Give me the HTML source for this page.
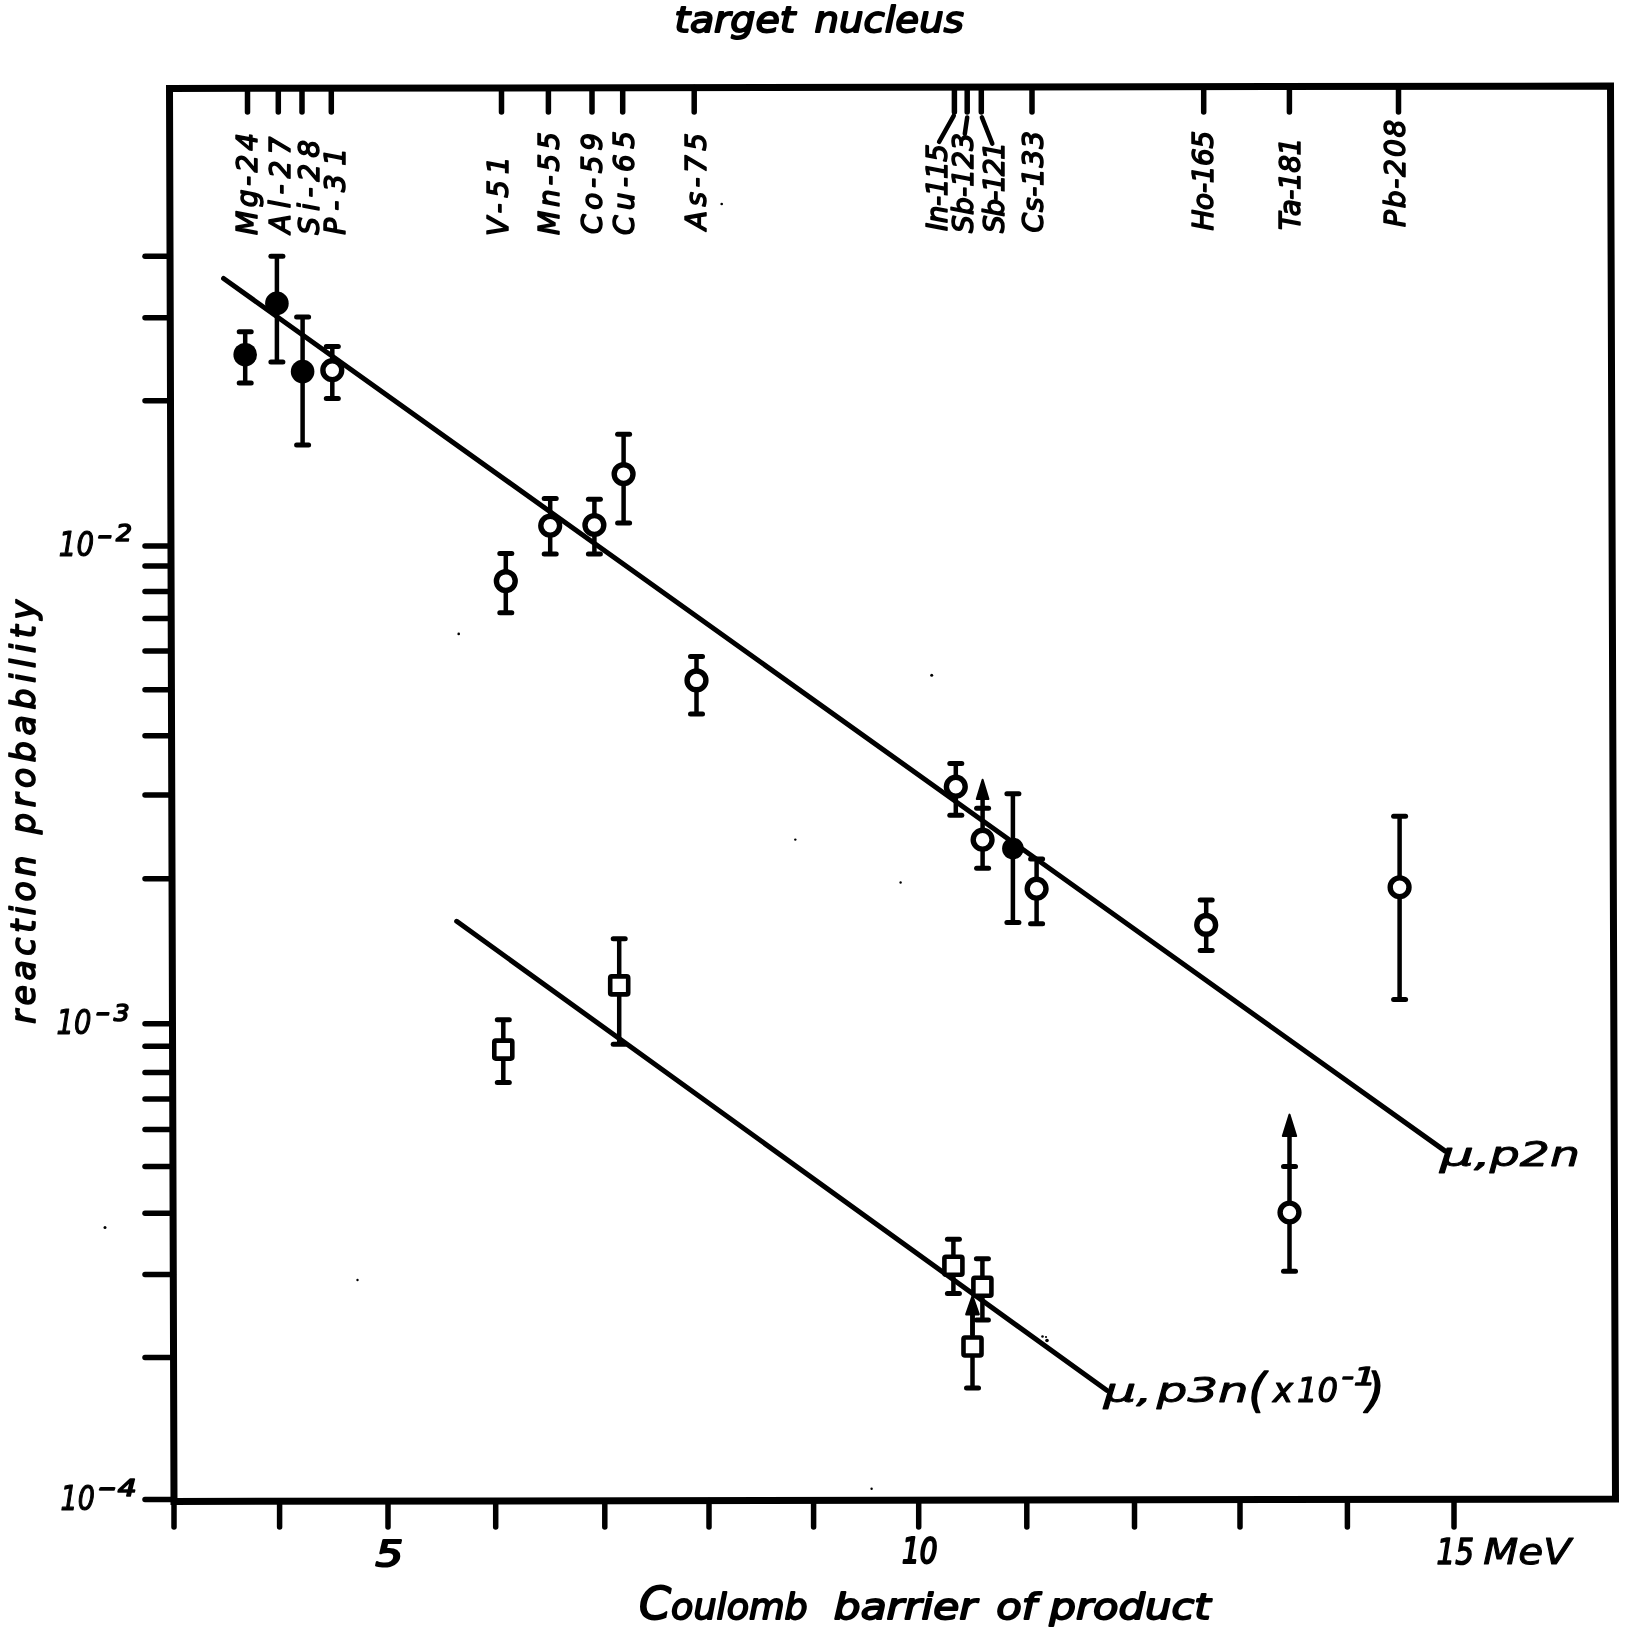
<!DOCTYPE html>
<html><head><meta charset="utf-8"><title>reaction probability vs Coulomb barrier</title>
<style>
html,body{margin:0;padding:0;background:#fff;}
body{width:1636px;height:1630px;overflow:hidden;}
svg{display:block;}
svg{filter:grayscale(1);}
svg text{font-family:"DejaVu Sans", sans-serif;font-weight:normal;font-style:oblique;stroke:#000;stroke-width:2.2px;stroke-linejoin:round;stroke-linecap:round;fill:#000;}
</style></head>
<body>
<svg width="1636" height="1630" viewBox="0 0 1636 1630">
<rect width="1636" height="1630" fill="#fff"/>
<path d="M169.5,88.5 L1610.5,86.0 L1615.5,1499.0 L174.0,1501.5 Z" fill="none" stroke="#000" stroke-width="7" stroke-linejoin="miter"/>
<line x1="247.5" y1="88.4" x2="247.5" y2="112" stroke="#000" stroke-width="5.5" stroke-linecap="round"/>
<line x1="278.3" y1="88.3" x2="278.3" y2="112" stroke="#000" stroke-width="5.5" stroke-linecap="round"/>
<line x1="302.0" y1="88.3" x2="302.0" y2="112" stroke="#000" stroke-width="5.5" stroke-linecap="round"/>
<line x1="331.3" y1="88.2" x2="331.3" y2="112" stroke="#000" stroke-width="5.5" stroke-linecap="round"/>
<line x1="501.5" y1="87.9" x2="501.5" y2="112" stroke="#000" stroke-width="5.5" stroke-linecap="round"/>
<line x1="548.4" y1="87.8" x2="548.4" y2="112" stroke="#000" stroke-width="5.5" stroke-linecap="round"/>
<line x1="592.0" y1="87.8" x2="592.0" y2="112" stroke="#000" stroke-width="5.5" stroke-linecap="round"/>
<line x1="622.7" y1="87.7" x2="622.7" y2="112" stroke="#000" stroke-width="5.5" stroke-linecap="round"/>
<line x1="694.2" y1="87.6" x2="694.2" y2="112" stroke="#000" stroke-width="5.5" stroke-linecap="round"/>
<line x1="954.4" y1="87.1" x2="954.4" y2="112" stroke="#000" stroke-width="5.5" stroke-linecap="round"/>
<line x1="967.2" y1="87.1" x2="967.2" y2="112" stroke="#000" stroke-width="5.5" stroke-linecap="round"/>
<line x1="981.3" y1="87.1" x2="981.3" y2="112" stroke="#000" stroke-width="5.5" stroke-linecap="round"/>
<line x1="1032.0" y1="87.0" x2="1032.0" y2="112" stroke="#000" stroke-width="5.5" stroke-linecap="round"/>
<line x1="1203.7" y1="86.7" x2="1203.7" y2="112" stroke="#000" stroke-width="5.5" stroke-linecap="round"/>
<line x1="1289.4" y1="86.6" x2="1289.4" y2="112" stroke="#000" stroke-width="5.5" stroke-linecap="round"/>
<line x1="1398.5" y1="86.4" x2="1398.5" y2="112" stroke="#000" stroke-width="5.5" stroke-linecap="round"/>
<line x1="145" y1="256.3" x2="170.0" y2="256.3" stroke="#000" stroke-width="5.5" stroke-linecap="round"/>
<line x1="145" y1="317.8" x2="170.2" y2="317.8" stroke="#000" stroke-width="5.5" stroke-linecap="round"/>
<line x1="145" y1="400.7" x2="170.5" y2="400.7" stroke="#000" stroke-width="5.5" stroke-linecap="round"/>
<line x1="145" y1="546.0" x2="171.0" y2="546.0" stroke="#000" stroke-width="5.5" stroke-linecap="round"/>
<line x1="145" y1="566.0" x2="171.0" y2="566.0" stroke="#000" stroke-width="5.5" stroke-linecap="round"/>
<line x1="145" y1="591.4" x2="171.1" y2="591.4" stroke="#000" stroke-width="5.5" stroke-linecap="round"/>
<line x1="145" y1="618.6" x2="171.2" y2="618.6" stroke="#000" stroke-width="5.5" stroke-linecap="round"/>
<line x1="145" y1="651.0" x2="171.3" y2="651.0" stroke="#000" stroke-width="5.5" stroke-linecap="round"/>
<line x1="145" y1="689.7" x2="171.4" y2="689.7" stroke="#000" stroke-width="5.5" stroke-linecap="round"/>
<line x1="145" y1="735.7" x2="171.6" y2="735.7" stroke="#000" stroke-width="5.5" stroke-linecap="round"/>
<line x1="145" y1="795.0" x2="171.8" y2="795.0" stroke="#000" stroke-width="5.5" stroke-linecap="round"/>
<line x1="145" y1="878.7" x2="172.0" y2="878.7" stroke="#000" stroke-width="5.5" stroke-linecap="round"/>
<line x1="145" y1="1023.8" x2="172.5" y2="1023.8" stroke="#000" stroke-width="5.5" stroke-linecap="round"/>
<line x1="145" y1="1046.2" x2="172.6" y2="1046.2" stroke="#000" stroke-width="5.5" stroke-linecap="round"/>
<line x1="145" y1="1072.6" x2="172.6" y2="1072.6" stroke="#000" stroke-width="5.5" stroke-linecap="round"/>
<line x1="145" y1="1099.0" x2="172.7" y2="1099.0" stroke="#000" stroke-width="5.5" stroke-linecap="round"/>
<line x1="145" y1="1129.4" x2="172.8" y2="1129.4" stroke="#000" stroke-width="5.5" stroke-linecap="round"/>
<line x1="145" y1="1166.6" x2="172.9" y2="1166.6" stroke="#000" stroke-width="5.5" stroke-linecap="round"/>
<line x1="145" y1="1213.3" x2="173.1" y2="1213.3" stroke="#000" stroke-width="5.5" stroke-linecap="round"/>
<line x1="145" y1="1274.6" x2="173.3" y2="1274.6" stroke="#000" stroke-width="5.5" stroke-linecap="round"/>
<line x1="145" y1="1357.6" x2="173.5" y2="1357.6" stroke="#000" stroke-width="5.5" stroke-linecap="round"/>
<line x1="145" y1="1499.5" x2="174.0" y2="1499.5" stroke="#000" stroke-width="5.5" stroke-linecap="round"/>
<line x1="174.0" y1="1501.5" x2="174.0" y2="1527" stroke="#000" stroke-width="5.5" stroke-linecap="round"/>
<line x1="279.6" y1="1501.3" x2="279.6" y2="1527" stroke="#000" stroke-width="5.5" stroke-linecap="round"/>
<line x1="388.0" y1="1501.1" x2="388.0" y2="1527" stroke="#000" stroke-width="5.5" stroke-linecap="round"/>
<line x1="495.7" y1="1500.9" x2="495.7" y2="1527" stroke="#000" stroke-width="5.5" stroke-linecap="round"/>
<line x1="604.8" y1="1500.8" x2="604.8" y2="1527" stroke="#000" stroke-width="5.5" stroke-linecap="round"/>
<line x1="709.0" y1="1500.6" x2="709.0" y2="1527" stroke="#000" stroke-width="5.5" stroke-linecap="round"/>
<line x1="813.6" y1="1500.4" x2="813.6" y2="1527" stroke="#000" stroke-width="5.5" stroke-linecap="round"/>
<line x1="918.7" y1="1500.2" x2="918.7" y2="1527" stroke="#000" stroke-width="5.5" stroke-linecap="round"/>
<line x1="1026.8" y1="1500.0" x2="1026.8" y2="1527" stroke="#000" stroke-width="5.5" stroke-linecap="round"/>
<line x1="1134.5" y1="1499.8" x2="1134.5" y2="1527" stroke="#000" stroke-width="5.5" stroke-linecap="round"/>
<line x1="1240.0" y1="1499.7" x2="1240.0" y2="1527" stroke="#000" stroke-width="5.5" stroke-linecap="round"/>
<line x1="1347.4" y1="1499.5" x2="1347.4" y2="1527" stroke="#000" stroke-width="5.5" stroke-linecap="round"/>
<line x1="1454.0" y1="1499.3" x2="1454.0" y2="1527" stroke="#000" stroke-width="5.5" stroke-linecap="round"/>
<line x1="223.6" y1="278.5" x2="1444.9" y2="1150.9" stroke="#000" stroke-width="5" stroke-linecap="round"/>
<line x1="456.7" y1="921.3" x2="1106.7" y2="1390.3" stroke="#000" stroke-width="5" stroke-linecap="round"/>
<line x1="245.2" y1="331.8" x2="245.2" y2="383.0" stroke="#000" stroke-width="4.5"/><line x1="239.2" y1="331.8" x2="251.2" y2="331.8" stroke="#000" stroke-width="5" stroke-linecap="round"/><line x1="239.2" y1="383.0" x2="251.2" y2="383.0" stroke="#000" stroke-width="5" stroke-linecap="round"/>
<circle cx="245.2" cy="354.7" r="11.8" fill="#000"/>
<line x1="276.9" y1="256.2" x2="276.9" y2="362.1" stroke="#000" stroke-width="4.5"/><line x1="270.9" y1="256.2" x2="282.9" y2="256.2" stroke="#000" stroke-width="5" stroke-linecap="round"/><line x1="270.9" y1="362.1" x2="282.9" y2="362.1" stroke="#000" stroke-width="5" stroke-linecap="round"/>
<circle cx="276.9" cy="303.4" r="11.8" fill="#000"/>
<line x1="302.6" y1="316.9" x2="302.6" y2="445.1" stroke="#000" stroke-width="4.5"/><line x1="296.6" y1="316.9" x2="308.6" y2="316.9" stroke="#000" stroke-width="5" stroke-linecap="round"/><line x1="296.6" y1="445.1" x2="308.6" y2="445.1" stroke="#000" stroke-width="5" stroke-linecap="round"/>
<circle cx="302.6" cy="371.6" r="11.8" fill="#000"/>
<line x1="1012.9" y1="793.7" x2="1012.9" y2="922.5" stroke="#000" stroke-width="4.5"/><line x1="1006.9" y1="793.7" x2="1018.9" y2="793.7" stroke="#000" stroke-width="5" stroke-linecap="round"/><line x1="1006.9" y1="922.5" x2="1018.9" y2="922.5" stroke="#000" stroke-width="5" stroke-linecap="round"/>
<circle cx="1012.9" cy="848.5" r="10.8" fill="#000"/>
<line x1="332.3" y1="346.6" x2="332.3" y2="398.6" stroke="#000" stroke-width="4.5"/><line x1="326.3" y1="346.6" x2="338.3" y2="346.6" stroke="#000" stroke-width="5" stroke-linecap="round"/><line x1="326.3" y1="398.6" x2="338.3" y2="398.6" stroke="#000" stroke-width="5" stroke-linecap="round"/>
<circle cx="332.3" cy="370.2" r="9.4" fill="#fff" stroke="#000" stroke-width="5.4"/>
<line x1="505.8" y1="553.4" x2="505.8" y2="612.7" stroke="#000" stroke-width="4.5"/><line x1="499.8" y1="553.4" x2="511.79999999999995" y2="553.4" stroke="#000" stroke-width="5" stroke-linecap="round"/><line x1="499.8" y1="612.7" x2="511.79999999999995" y2="612.7" stroke="#000" stroke-width="5" stroke-linecap="round"/>
<circle cx="505.8" cy="581.1" r="9.4" fill="#fff" stroke="#000" stroke-width="5.4"/>
<line x1="550.2" y1="498.6" x2="550.2" y2="554.0" stroke="#000" stroke-width="4.5"/><line x1="544.2" y1="498.6" x2="556.2" y2="498.6" stroke="#000" stroke-width="5" stroke-linecap="round"/><line x1="544.2" y1="554.0" x2="556.2" y2="554.0" stroke="#000" stroke-width="5" stroke-linecap="round"/>
<circle cx="550.2" cy="525.7" r="9.4" fill="#fff" stroke="#000" stroke-width="5.4"/>
<line x1="594.4" y1="499.3" x2="594.4" y2="554.0" stroke="#000" stroke-width="4.5"/><line x1="588.4" y1="499.3" x2="600.4" y2="499.3" stroke="#000" stroke-width="5" stroke-linecap="round"/><line x1="588.4" y1="554.0" x2="600.4" y2="554.0" stroke="#000" stroke-width="5" stroke-linecap="round"/>
<circle cx="594.4" cy="525.0" r="9.4" fill="#fff" stroke="#000" stroke-width="5.4"/>
<line x1="623.6" y1="434.2" x2="623.6" y2="523.1" stroke="#000" stroke-width="4.5"/><line x1="617.6" y1="434.2" x2="629.6" y2="434.2" stroke="#000" stroke-width="5" stroke-linecap="round"/><line x1="617.6" y1="523.1" x2="629.6" y2="523.1" stroke="#000" stroke-width="5" stroke-linecap="round"/>
<circle cx="623.6" cy="474.1" r="9.4" fill="#fff" stroke="#000" stroke-width="5.4"/>
<line x1="696.5" y1="656.4" x2="696.5" y2="713.9" stroke="#000" stroke-width="4.5"/><line x1="690.5" y1="656.4" x2="702.5" y2="656.4" stroke="#000" stroke-width="5" stroke-linecap="round"/><line x1="690.5" y1="713.9" x2="702.5" y2="713.9" stroke="#000" stroke-width="5" stroke-linecap="round"/>
<circle cx="696.5" cy="680.4" r="9.4" fill="#fff" stroke="#000" stroke-width="5.4"/>
<line x1="955.8" y1="763.4" x2="955.8" y2="815.3" stroke="#000" stroke-width="4.5"/><line x1="949.8" y1="763.4" x2="961.8" y2="763.4" stroke="#000" stroke-width="5" stroke-linecap="round"/><line x1="949.8" y1="815.3" x2="961.8" y2="815.3" stroke="#000" stroke-width="5" stroke-linecap="round"/>
<circle cx="955.8" cy="786.7" r="9.4" fill="#fff" stroke="#000" stroke-width="5.4"/>
<line x1="982.6" y1="808.3" x2="982.6" y2="868.3" stroke="#000" stroke-width="4.5"/><line x1="976.6" y1="808.3" x2="988.6" y2="808.3" stroke="#000" stroke-width="5" stroke-linecap="round"/><line x1="976.6" y1="868.3" x2="988.6" y2="868.3" stroke="#000" stroke-width="5" stroke-linecap="round"/>
<circle cx="982.6" cy="839.7" r="9.4" fill="#fff" stroke="#000" stroke-width="5.4"/>
<line x1="1036.6" y1="859.0" x2="1036.6" y2="923.7" stroke="#000" stroke-width="4.5"/><line x1="1030.6" y1="859.0" x2="1042.6" y2="859.0" stroke="#000" stroke-width="5" stroke-linecap="round"/><line x1="1030.6" y1="923.7" x2="1042.6" y2="923.7" stroke="#000" stroke-width="5" stroke-linecap="round"/>
<circle cx="1036.6" cy="888.7" r="9.4" fill="#fff" stroke="#000" stroke-width="5.4"/>
<line x1="1206.2" y1="900.1" x2="1206.2" y2="950.6" stroke="#000" stroke-width="4.5"/><line x1="1200.2" y1="900.1" x2="1212.2" y2="900.1" stroke="#000" stroke-width="5" stroke-linecap="round"/><line x1="1200.2" y1="950.6" x2="1212.2" y2="950.6" stroke="#000" stroke-width="5" stroke-linecap="round"/>
<circle cx="1206.2" cy="924.9" r="9.4" fill="#fff" stroke="#000" stroke-width="5.4"/>
<line x1="1289.5" y1="1166.4" x2="1289.5" y2="1271.3" stroke="#000" stroke-width="4.5"/><line x1="1283.5" y1="1166.4" x2="1295.5" y2="1166.4" stroke="#000" stroke-width="5" stroke-linecap="round"/><line x1="1283.5" y1="1271.3" x2="1295.5" y2="1271.3" stroke="#000" stroke-width="5" stroke-linecap="round"/>
<circle cx="1289.5" cy="1212.5" r="9.4" fill="#fff" stroke="#000" stroke-width="5.4"/>
<line x1="1399.6" y1="816.3" x2="1399.6" y2="999.4" stroke="#000" stroke-width="4.5"/><line x1="1393.6" y1="816.3" x2="1405.6" y2="816.3" stroke="#000" stroke-width="5" stroke-linecap="round"/><line x1="1393.6" y1="999.4" x2="1405.6" y2="999.4" stroke="#000" stroke-width="5" stroke-linecap="round"/>
<circle cx="1399.6" cy="887.3" r="9.4" fill="#fff" stroke="#000" stroke-width="5.4"/>
<line x1="982.6" y1="808.3" x2="982.6" y2="799.0" stroke="#000" stroke-width="4.5"/><path d="M982.6,779.7 L988.45,799.0 L976.75,799.0 Z" fill="#000" stroke="#000" stroke-width="2" stroke-linejoin="round"/>
<line x1="1289.5" y1="1166.4" x2="1289.5" y2="1136.1" stroke="#000" stroke-width="4.5"/><path d="M1289.5,1114.6 L1296.2,1136.1 L1282.8,1136.1 Z" fill="#000" stroke="#000" stroke-width="2" stroke-linejoin="round"/>
<line x1="503.3" y1="1019.8" x2="503.3" y2="1082.5" stroke="#000" stroke-width="4.5"/><line x1="497.3" y1="1019.8" x2="509.3" y2="1019.8" stroke="#000" stroke-width="5" stroke-linecap="round"/><line x1="497.3" y1="1082.5" x2="509.3" y2="1082.5" stroke="#000" stroke-width="5" stroke-linecap="round"/>
<rect x="494.3" y="1040.6" width="18.0" height="18.0" rx="1.5" fill="#fff" stroke="#000" stroke-width="4.6"/>
<line x1="619.2" y1="938.8" x2="619.2" y2="1044.3" stroke="#000" stroke-width="4.5"/><line x1="613.2" y1="938.8" x2="625.2" y2="938.8" stroke="#000" stroke-width="5" stroke-linecap="round"/><line x1="613.2" y1="1044.3" x2="625.2" y2="1044.3" stroke="#000" stroke-width="5" stroke-linecap="round"/>
<rect x="610.2" y="976.4" width="18.0" height="18.0" rx="1.5" fill="#fff" stroke="#000" stroke-width="4.6"/>
<line x1="953.4" y1="1239.3" x2="953.4" y2="1293.5" stroke="#000" stroke-width="4.5"/><line x1="947.4" y1="1239.3" x2="959.4" y2="1239.3" stroke="#000" stroke-width="5" stroke-linecap="round"/><line x1="947.4" y1="1293.5" x2="959.4" y2="1293.5" stroke="#000" stroke-width="5" stroke-linecap="round"/>
<rect x="944.4" y="1256.8" width="18.0" height="18.0" rx="1.5" fill="#fff" stroke="#000" stroke-width="4.6"/>
<line x1="982.4" y1="1258.7" x2="982.4" y2="1320.0" stroke="#000" stroke-width="4.5"/><line x1="976.4" y1="1258.7" x2="988.4" y2="1258.7" stroke="#000" stroke-width="5" stroke-linecap="round"/><line x1="976.4" y1="1320.0" x2="988.4" y2="1320.0" stroke="#000" stroke-width="5" stroke-linecap="round"/>
<rect x="973.4" y="1277.8" width="18.0" height="18.0" rx="1.5" fill="#fff" stroke="#000" stroke-width="4.6"/>
<line x1="972.5" y1="1314.4" x2="972.5" y2="1387.9" stroke="#000" stroke-width="4.5"/><line x1="966.5" y1="1387.9" x2="978.5" y2="1387.9" stroke="#000" stroke-width="5" stroke-linecap="round"/>
<rect x="963.5" y="1337.5" width="18.0" height="18.0" rx="1.5" fill="#fff" stroke="#000" stroke-width="4.6"/>
<line x1="972.5" y1="1335.0" x2="972.5" y2="1314.4" stroke="#000" stroke-width="4.5"/><path d="M972.5,1296.2 L978.85,1314.4 L966.15,1314.4 Z" fill="#000" stroke="#000" stroke-width="2" stroke-linejoin="round"/>
<line x1="953.8" y1="115.6" x2="939.1" y2="141.8" stroke="#000" stroke-width="4.5" stroke-linecap="round"/>
<line x1="967.2" y1="117.4" x2="964.8" y2="133.9" stroke="#000" stroke-width="4.5" stroke-linecap="round"/>
<line x1="981.9" y1="117.4" x2="992.3" y2="143.7" stroke="#000" stroke-width="4.5" stroke-linecap="round"/>
<circle cx="458.7" cy="633.9" r="1.3" fill="#000"/>
<circle cx="931.7" cy="675.3" r="1.5" fill="#000"/>
<circle cx="795.3" cy="839.6" r="1.2" fill="#000"/>
<circle cx="900.6" cy="882.5" r="1.2" fill="#000"/>
<circle cx="721.7" cy="204.0" r="1.3" fill="#000"/>
<circle cx="105.0" cy="1227.5" r="1.5" fill="#000"/>
<circle cx="357.5" cy="1280.0" r="1.2" fill="#000"/>
<circle cx="871.6" cy="1488.7" r="1.2" fill="#000"/>
<circle cx="1042.5" cy="1336.5" r="1.3" fill="#000"/>
<circle cx="1046.0" cy="1337.0" r="1.1" fill="#000"/>
<circle cx="1047.0" cy="1340.5" r="1.8" fill="#000"/>
<text id="t_target" x="674.40" y="32.30" font-size="35" style="stroke-width:1.8px" textLength="120.80" lengthAdjust="spacingAndGlyphs">target</text>
<text id="t_nucleus" x="814.40" y="32.30" font-size="35" style="stroke-width:1.8px" textLength="149.40" lengthAdjust="spacingAndGlyphs">nucleus</text>
<text id="t_coulomb" x="639.00" y="1619.00" font-size="35" style="stroke-width:1.8px" textLength="168.80" lengthAdjust="spacingAndGlyphs"><tspan font-size="44">C</tspan>oulomb</text>
<text id="t_barrier" x="833.80" y="1619.00" font-size="35" style="stroke-width:1.8px" textLength="142.80" lengthAdjust="spacingAndGlyphs">barrier</text>
<text id="t_of" x="996.20" y="1619.00" font-size="35" style="stroke-width:1.8px" textLength="40.20" lengthAdjust="spacingAndGlyphs">of</text>
<text id="t_product" x="1049.60" y="1619.00" font-size="35" style="stroke-width:1.8px" textLength="161.00" lengthAdjust="spacingAndGlyphs">product</text>
<text id="t_reaction" x="34.60" y="1023.80" font-size="33" style="stroke-width:1.7px" textLength="168.20" lengthAdjust="spacing" transform="rotate(-90 34.60 1023.80)">reaction</text>
<text id="t_probability" x="34.60" y="834.00" font-size="33" style="stroke-width:1.7px" textLength="234.00" lengthAdjust="spacing" transform="rotate(-90 34.60 834.00)">probability</text>
<text id="t_x5" x="375.40" y="1566.00" font-size="35" textLength="27.60" lengthAdjust="spacingAndGlyphs">5</text>
<text id="t_x10" x="902.00" y="1562.50" font-size="35" textLength="35.40" lengthAdjust="spacingAndGlyphs">10</text>
<text id="t_x15" x="1436.60" y="1563.50" font-size="35" style="stroke-width:1.6px" textLength="37.40" lengthAdjust="spacingAndGlyphs">15</text>
<text id="t_mev" x="1483.20" y="1563.50" font-size="35" style="stroke-width:1.0px" textLength="87.80" lengthAdjust="spacingAndGlyphs">MeV</text>
<text id="t_y2_10" x="58.80" y="556.00" font-size="34" style="stroke-width:1.2px" textLength="35.20" lengthAdjust="spacingAndGlyphs">10</text>
<text id="t_y2_m" x="97.20" y="543.50" font-size="26" style="stroke-width:1.6px" textLength="14.80" lengthAdjust="spacingAndGlyphs">-</text>
<text id="t_y2_e" x="116.00" y="540.50" font-size="23" style="stroke-width:1.6px" textLength="16.00" lengthAdjust="spacingAndGlyphs">2</text>
<text id="t_y3_10" x="56.60" y="1034.00" font-size="34" style="stroke-width:1.2px" textLength="34.80" lengthAdjust="spacingAndGlyphs">10</text>
<text id="t_y3_m" x="95.60" y="1021.00" font-size="26" style="stroke-width:1.6px" textLength="14.40" lengthAdjust="spacingAndGlyphs">-</text>
<text id="t_y3_e" x="113.80" y="1020.50" font-size="23" style="stroke-width:1.6px" textLength="15.80" lengthAdjust="spacingAndGlyphs">3</text>
<text id="t_y4_10" x="60.60" y="1509.50" font-size="34" style="stroke-width:1.2px" textLength="34.20" lengthAdjust="spacingAndGlyphs">10</text>
<text id="t_y4_m" x="98.00" y="1495.50" font-size="26" style="stroke-width:1.6px" textLength="17.80" lengthAdjust="spacingAndGlyphs">-</text>
<text id="t_y4_e" x="117.80" y="1496.00" font-size="23" style="stroke-width:1.6px" textLength="18.80" lengthAdjust="spacingAndGlyphs">4</text>
<text id="t_mu1" x="1440.00" y="1165.50" font-size="32" style="stroke-width:0.9px" textLength="51.00" lengthAdjust="spacingAndGlyphs">&#956;,</text>
<text id="t_p2n" x="1489.80" y="1165.50" font-size="33" style="stroke-width:0.9px" textLength="90.20" lengthAdjust="spacingAndGlyphs">p2n</text>
<text id="t_mu2" x="1103.80" y="1402.00" font-size="32" style="stroke-width:0.9px" textLength="48.80" lengthAdjust="spacingAndGlyphs">&#956;,</text>
<text id="t_p3n" x="1156.80" y="1402.00" font-size="34" style="stroke-width:0.9px" textLength="91.80" lengthAdjust="spacingAndGlyphs">p3n</text>
<text id="t_lpar" x="1248.60" y="1405.50" font-size="46" style="stroke-width:1.6px" textLength="71.00" lengthAdjust="spacing">(</text>
<text id="t_xx" x="1273.00" y="1402.00" font-size="34" style="stroke-width:1.2px" textLength="20.00" lengthAdjust="spacingAndGlyphs">x</text>
<text id="t_x10n" x="1297.00" y="1402.00" font-size="34" style="stroke-width:1.2px" textLength="41.00" lengthAdjust="spacingAndGlyphs">10</text>
<text id="t_sup1" x="1341.60" y="1385.00" font-size="24" style="stroke-width:1.4px" textLength="34.40" lengthAdjust="spacingAndGlyphs">-1</text>
<text id="t_rpar" x="1366.40" y="1405.50" font-size="46" style="stroke-width:1.6px" textLength="44.60" lengthAdjust="spacing">)</text>
<text id="l_Mg_24" x="256.60" y="235.00" font-size="28" style="stroke-width:1.5px" textLength="102.00" lengthAdjust="spacing" transform="rotate(-90 256.60 235.00)">Mg-24</text>
<text id="l_Al_27" x="289.60" y="233.60" font-size="28" style="stroke-width:1.5px" textLength="97.00" lengthAdjust="spacing" transform="rotate(-90 289.60 233.60)">Al-27</text>
<text id="l_Si_28" x="319.00" y="234.80" font-size="28" style="stroke-width:1.5px" textLength="95.00" lengthAdjust="spacing" transform="rotate(-90 319.00 234.80)">Si-28</text>
<text id="l_P_31" x="345.50" y="234.80" font-size="28" style="stroke-width:1.5px" textLength="87.00" lengthAdjust="spacing" transform="rotate(-90 345.50 234.80)">P-31</text>
<text id="l_V_51" x="507.80" y="236.00" font-size="28" style="stroke-width:1.5px" textLength="79.60" lengthAdjust="spacing" transform="rotate(-90 507.80 236.00)">V-51</text>
<text id="l_Mn_55" x="559.30" y="235.00" font-size="28" style="stroke-width:1.5px" textLength="103.00" lengthAdjust="spacing" transform="rotate(-90 559.30 235.00)">Mn-55</text>
<text id="l_Co_59" x="602.40" y="234.00" font-size="28" style="stroke-width:1.5px" textLength="101.00" lengthAdjust="spacing" transform="rotate(-90 602.40 234.00)">Co-59</text>
<text id="l_Cu_65" x="633.60" y="235.00" font-size="28" style="stroke-width:1.5px" textLength="104.00" lengthAdjust="spacing" transform="rotate(-90 633.60 235.00)">Cu-65</text>
<text id="l_As_75" x="706.00" y="230.00" font-size="28" style="stroke-width:1.5px" textLength="97.00" lengthAdjust="spacing" transform="rotate(-90 706.00 230.00)">As-75</text>
<text id="l_In_115" x="946.70" y="231.00" font-size="28" style="stroke-width:1.5px" textLength="87.20" lengthAdjust="spacing" transform="rotate(-90 946.70 231.00)">In-115</text>
<text id="l_Sb_123" x="973.00" y="233.00" font-size="28" style="stroke-width:1.5px" textLength="100.20" lengthAdjust="spacing" transform="rotate(-90 973.00 233.00)">Sb-123</text>
<text id="l_Sb_121" x="1003.50" y="233.00" font-size="28" style="stroke-width:1.5px" textLength="91.00" lengthAdjust="spacing" transform="rotate(-90 1003.50 233.00)">Sb-121</text>
<text id="l_Cs_133" x="1043.00" y="232.40" font-size="28" style="stroke-width:1.5px" textLength="101.40" lengthAdjust="spacing" transform="rotate(-90 1043.00 232.40)">Cs-133</text>
<text id="l_Ho_165" x="1213.00" y="230.60" font-size="28" style="stroke-width:1.5px" textLength="100.00" lengthAdjust="spacing" transform="rotate(-90 1213.00 230.60)">Ho-165</text>
<text id="l_Ta_181" x="1300.30" y="230.00" font-size="28" style="stroke-width:1.5px" textLength="92.40" lengthAdjust="spacing" transform="rotate(-90 1300.30 230.00)">Ta-181</text>
<text id="l_Pb_208" x="1404.80" y="227.00" font-size="28" style="stroke-width:1.5px" textLength="107.40" lengthAdjust="spacing" transform="rotate(-90 1404.80 227.00)">Pb-208</text>
</svg>
</body></html>
